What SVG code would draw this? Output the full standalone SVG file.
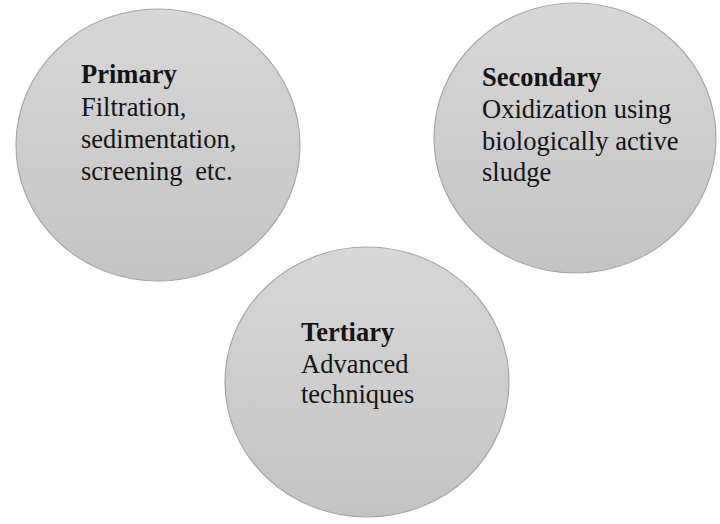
<svg xmlns="http://www.w3.org/2000/svg" width="720" height="524" viewBox="0 0 720 524">
<defs>
<linearGradient id="g" x1="0" y1="0" x2="0" y2="1">
<stop offset="0" stop-color="#d7d7d7"/>
<stop offset="1" stop-color="#c4c4c4"/>
</linearGradient>
<style>
.c{fill:url(#g);stroke:#a8a8a8;stroke-width:1.2}
.t{font-family:"Liberation Serif","Times New Roman",serif;font-size:26.5px;fill:#141414}
.b{font-weight:bold}
</style>
</defs>
<rect width="720" height="524" fill="#ffffff"/>
<g id="connectors"/>
<g id="primary">
<ellipse class="c" cx="158" cy="145" rx="142" ry="136"/>
<text class="t" x="81"><tspan class="b" x="81" y="83">Primary</tspan><tspan x="81" y="116">Filtration,</tspan><tspan x="81" y="148">sedimentation,</tspan><tspan x="81" y="180" word-spacing="6">screening etc.</tspan></text>
</g>
<g id="secondary">
<ellipse class="c" cx="575" cy="138" rx="141" ry="135"/>
<text class="t" x="482"><tspan class="b" x="482" y="86">Secondary</tspan><tspan x="482" y="118">Oxidization using</tspan><tspan x="482" y="150">biologically active</tspan><tspan x="482" y="181">sludge</tspan></text>
</g>
<g id="tertiary">
<ellipse class="c" cx="367" cy="382" rx="142" ry="135"/>
<text class="t" x="301"><tspan class="b" x="301" y="341">Tertiary</tspan><tspan x="301" y="373">Advanced</tspan><tspan x="301" y="403">techniques</tspan></text>
</g>
</svg>
